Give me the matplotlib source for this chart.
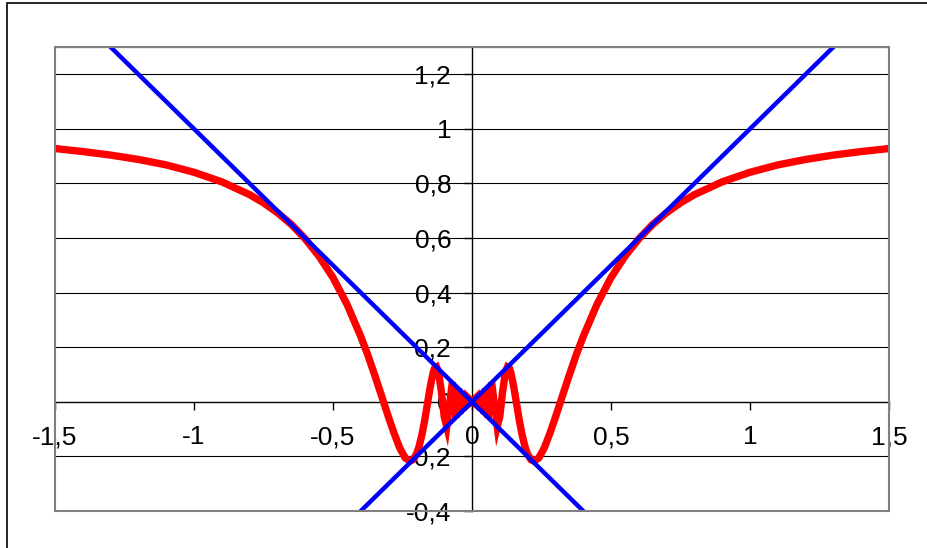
import numpy as np
import matplotlib.pyplot as plt
from matplotlib.patches import Rectangle

# red curve, right half (the curve is symmetric about x = 0)
x_right = [0.0, 0.0155, 0.0163, 0.0172, 0.0182, 0.0193, 0.0205, 0.0220, 0.0236,
           0.0255, 0.0277, 0.0303, 0.0335, 0.0374, 0.0424, 0.0490, 0.0579, 0.0707,
           0.0909, 0.10, 0.11, 0.12, 0.1273, 0.135, 0.14, 0.15, 0.16, 0.17, 0.18,
           0.19, 0.20, 0.212, 0.2226, 0.24, 0.26, 0.28, 0.30, 0.325, 0.35, 0.375,
           0.40, 0.45, 0.50, 0.55, 0.60, 0.65, 0.70, 0.75, 0.80, 0.90, 1.0, 1.1,
           1.2, 1.3, 1.4, 1.5]
y_right = [0.0, 0.0155, -0.0163, 0.0172, -0.0182, 0.0193, -0.0205, 0.0220, -0.0236,
           0.0255, -0.0277, 0.0303, -0.0335, 0.0374, -0.0424, 0.0490, -0.0579, 0.0707,
           -0.0909, -0.054, 0.036, 0.107, 0.127, 0.122, 0.106, 0.056, -0.005, -0.067,
           -0.120, -0.162, -0.192, -0.212, -0.217, -0.206, -0.169, -0.116, -0.057,
           0.021, 0.098, 0.172, 0.239, 0.358, 0.455, 0.533, 0.597, 0.650, 0.693,
           0.729, 0.759, 0.806, 0.841, 0.868, 0.888, 0.904, 0.917, 0.928]

# blue lines y = x and y = -x
line_x = [-1.5, 1.5]
line_up = [-1.5, 1.5]
line_down = [1.5, -1.5]

xticks = [-1.5, -1, -0.5, 0, 0.5, 1, 1.5]
yticks = [-0.4, -0.2, 0, 0.2, 0.4, 0.6, 0.8, 1.0, 1.2]

def comma(v):
    s = ('%g' % v).replace('.', ',')
    return s

x_red = np.concatenate([-np.array(x_right[::-1]), np.array(x_right[1:])])
y_red = np.concatenate([np.array(y_right[::-1]), np.array(y_right[1:])])

plt.rcParams['font.family'] = ['Liberation Sans', 'DejaVu Sans']

fig = plt.figure(figsize=(9.27, 5.48), dpi=100)
fig.patches.append(Rectangle((7 / 927, -0.1), 1.1, 1 - 3 / 548 + 0.1,
                             transform=fig.transFigure, fill=False,
                             edgecolor='black', lw=1.2))
ax = fig.add_axes([55 / 927, 1 - 511 / 548, 834 / 927, 464 / 548])

for yv in yticks + [1.3]:
    if yv != 0:
        ax.axhline(yv, color='black', lw=0.8, zorder=1)

ax.plot(x_red, y_red, color='#ff0000', lw=5.3, solid_joinstyle='miter', zorder=3)
ax.plot(line_x, line_up, color='#0000ff', lw=3.2, zorder=4)
ax.plot(line_x, line_down, color='#0000ff', lw=3.2, zorder=4)

ax.set_xlim(-1.5, 1.5)
ax.set_ylim(-0.4, 1.3)

for s in ['top', 'right']:
    ax.spines[s].set_visible(False)
ax.spines['left'].set_position(('data', 0))
ax.spines['bottom'].set_position(('data', 0))
ax.spines['left'].set_color('black')
ax.spines['bottom'].set_color('black')
ax.spines['left'].set_linewidth(1)
ax.spines['bottom'].set_linewidth(1)
ax.spines['left'].set_zorder(2)
ax.spines['bottom'].set_zorder(2)
ax.add_patch(Rectangle((0, 0), 1, 1, transform=ax.transAxes, fill=False,
                       edgecolor='#808080', lw=1.5, clip_on=False, zorder=5))

ax.set_xticks(xticks)
ax.set_xticklabels([comma(v) for v in xticks])
ax.set_yticks(yticks)
ax.set_yticklabels([comma(v) for v in yticks])
ax.tick_params(axis='x', direction='out', length=6, width=1, pad=11, labelsize=19)
ax.tick_params(axis='y', direction='out', length=6, width=1, pad=9, labelsize=19)

fig.savefig('out.png', dpi=100, facecolor='white')
